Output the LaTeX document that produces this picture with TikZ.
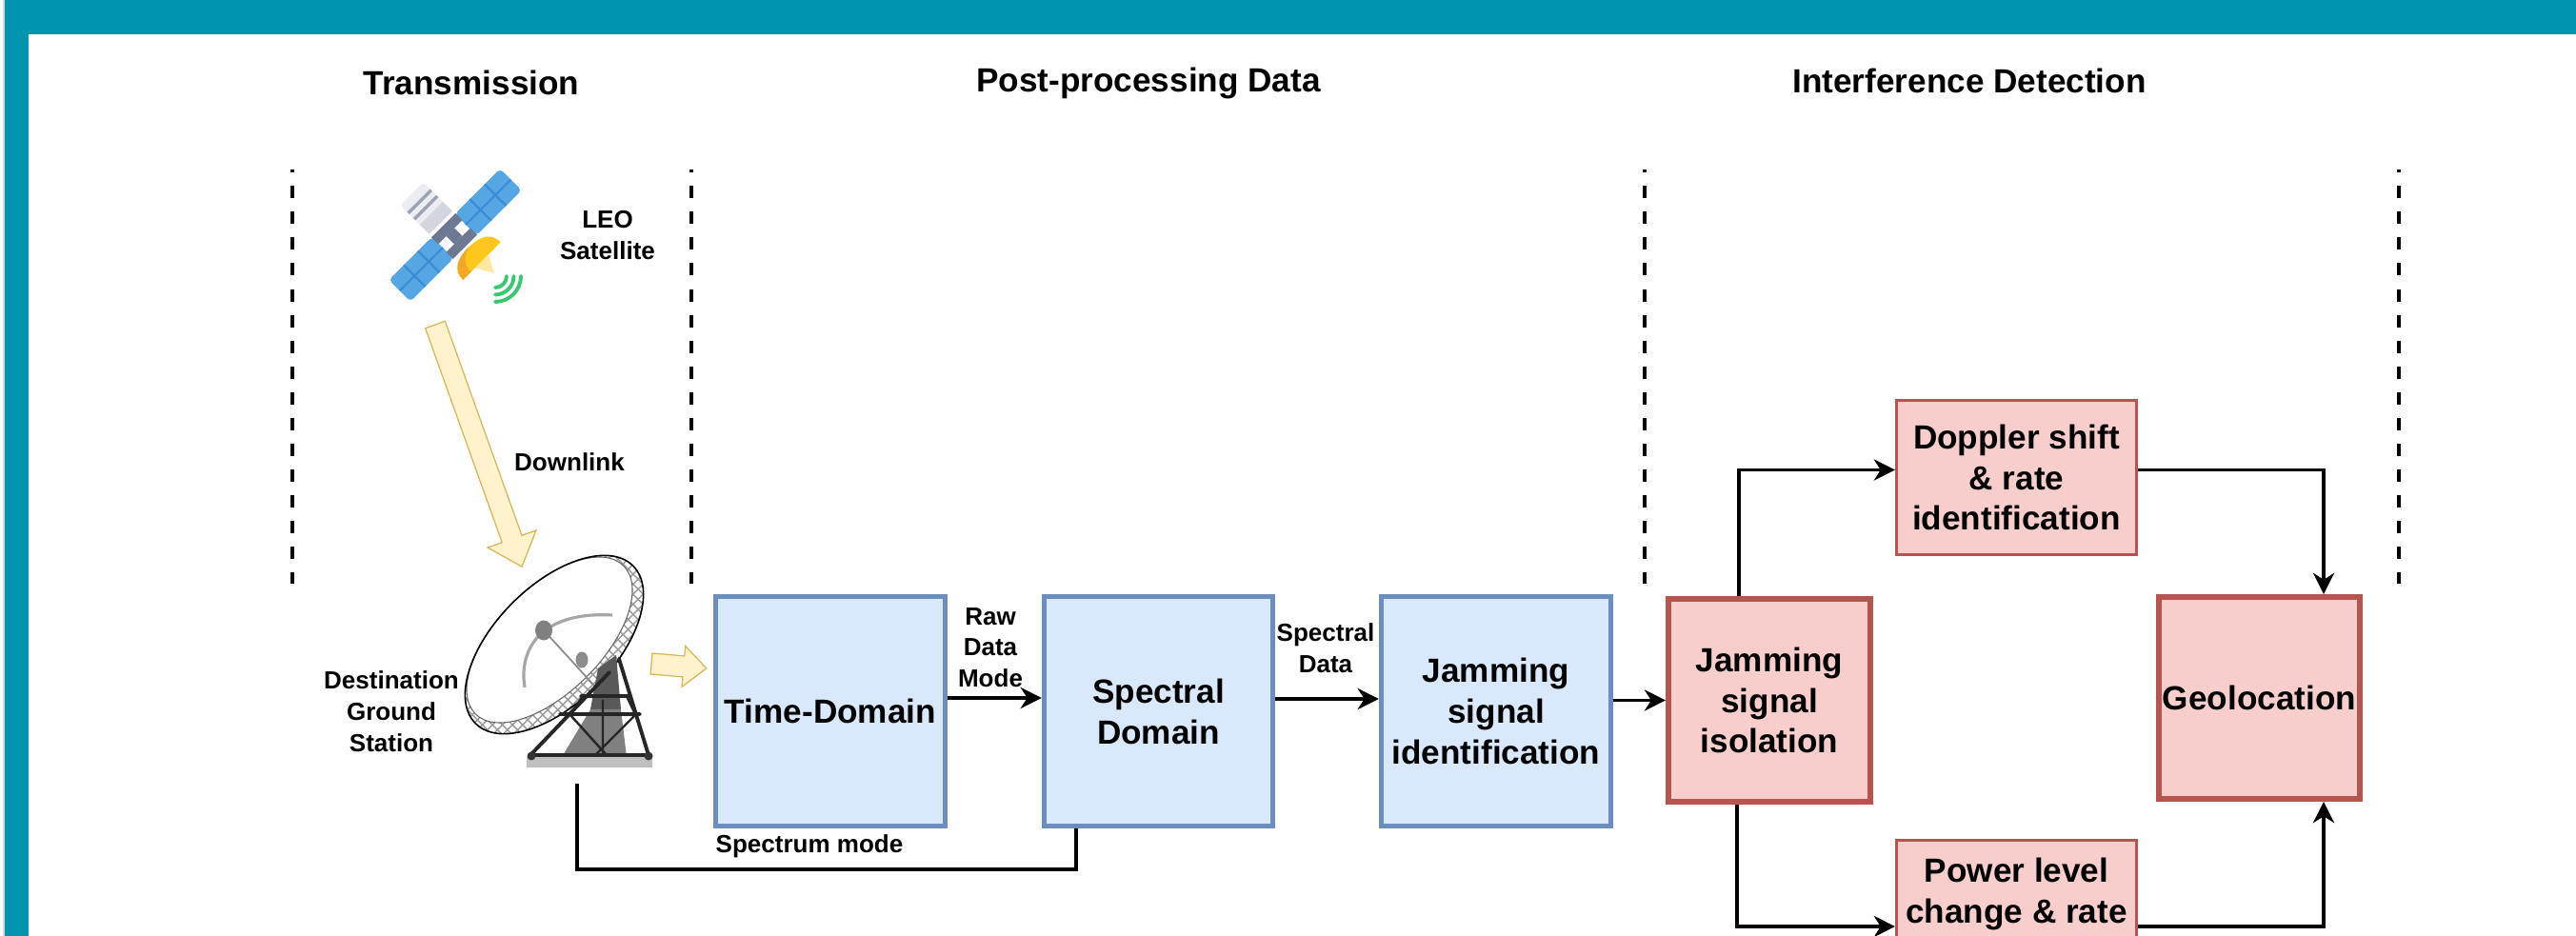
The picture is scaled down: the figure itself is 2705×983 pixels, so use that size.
\documentclass[tikz,border=0pt]{standalone}
\usepackage{fontspec}
\setmainfont{Liberation Sans}
\usetikzlibrary{arrows.meta,patterns}

\definecolor{frameteal}{HTML}{0095AE}
\definecolor{procfill}{HTML}{DAE8FC}
\definecolor{procline}{HTML}{6C8EBF}
\definecolor{detfill}{HTML}{F8CECC}
\definecolor{detline}{HTML}{B85450}
\definecolor{beamfill}{HTML}{FFF2CC}
\definecolor{beamline}{HTML}{D6B656}
\definecolor{panelblue}{HTML}{55A6E2}
\definecolor{panelgrid}{HTML}{3A8BD3}
\definecolor{busgray}{HTML}{6D7893}
\definecolor{radlight}{HTML}{ECEDF2}
\definecolor{raddark}{HTML}{D3D6DF}
\definecolor{radstripe}{HTML}{9CA2B3}
\definecolor{dishyellow}{HTML}{FFC61B}
\definecolor{dishorange}{HTML}{F5A623}
\definecolor{feedcone}{HTML}{FFE7A0}
\definecolor{wavegreen}{HTML}{38C870}

\newcommand{\dgBoxFont}{\fontsize{10}{12.2}\selectfont\bfseries}
\newcommand{\dgTagFont}{\fontsize{7.4}{9.3}\selectfont\bfseries}
\newcommand{\dgPhaseFont}{\fontsize{10}{12}\selectfont\bfseries}

\tikzset{
  bluebox/.style={draw=procline, fill=procfill, line width=1.5pt,
    minimum width=2.41cm, minimum height=2.41cm, inner sep=1pt,
    align=center, font=\dgBoxFont},
  redbox/.style={draw=detline, fill=detfill, inner sep=1pt,
    align=center, font=\dgBoxFont},
  conn/.style={line width=1pt, draw=black},
  flow/.style={conn, -{Stealth[length=6.3pt,width=6.3pt,inset=2pt]}},
  phase/.style={font=\dgPhaseFont, inner sep=0pt},
  tag/.style={font=\dgTagFont, align=center, inner sep=0pt},
  divider/.style={line width=1.15pt, dash pattern=on 3.7pt off 4pt, dash phase=2.8pt},
  beam/.style={fill=beamfill, draw=beamline, line width=0.35pt, line join=miter},
}

\begin{document}
\begin{tikzpicture}[x=0.01cm, y=-0.01cm]
\useasboundingbox (0,0) rectangle (2705,983);
\clip (0,0) rectangle (2705,983);
\fill[white] (0,0) rectangle (2705,983);

% frame
\draw[black!15, line width=0.3pt] (4,0) -- (4,983);
\fill[frameteal] (5,0) rectangle (2705,36);
\fill[frameteal] (5,0) rectangle (30,983);

% phase titles
\node[phase] (ttrans) at (495,87) {Transmission};
\node[phase] (tpost) at (1206,87) {Post-processing Data};
\node[phase] (tdet) at (2068,85) {Interference Detection};

% phase dividers
\foreach \xx in {307,726,1727,2519}
  \draw[divider] (\xx,178) -- (\xx,613);

% ---------- LEO satellite ----------
\begin{scope}[shift={(477,248)}, rotate=45]
  % radiator
  \fill[radlight, rounded corners=1pt] (-17,-63) rectangle (17,-20);
  \fill[raddark] (-17,-34) rectangle (17,-20);
  \fill[radstripe] (-17,-53) rectangle (17,-49.5);
  \fill[radstripe] (-17,-44) rectangle (17,-40.5);
  % solar wings
  \fill[panelblue, rounded corners=1.2pt] (17,-16) rectangle (84,16);
  \fill[panelblue, rounded corners=1.2pt] (-81,-16) rectangle (-17,16);
  \draw[panelgrid, line width=0.6pt] (17,0) -- (84,0) (39,-16) -- (39,16) (61,-16) -- (61,16);
  \draw[panelgrid, line width=0.6pt] (-81,0) -- (-17,0) (-38,-16) -- (-38,16) (-59,-16) -- (-59,16);
  % bus
  \fill[busgray] (-18,-16) rectangle (18,-6);
  \fill[busgray] (-18,6) rectangle (18,16);
  \fill[busgray] (-6,-6) rectangle (6,6);
  % dish and feed
  \fill[dishyellow] (-26,39) .. controls (-26,24) and (-14,19) .. (2,19)
    .. controls (18,19) and (30,24) .. (30,39) -- cycle;
  \fill[dishorange] (-26,39) .. controls (-26,24) and (-14,19) .. (2,19)
    .. controls (-10,23) and (-15,31) .. (-14,39) -- cycle;
  \fill[feedcone] (-8,39) -- (12,39) -- (2,57) -- cycle;
\end{scope}
\foreach \r in {12,19.5,27}
  \draw[wavegreen, line width=1.1pt, line cap=round] (520+\r,290) arc[start angle=0, end angle=90, radius=\r];

\node[tag] (leo) at (638,247) {LEO\\Satellite};

% downlink beam
\begin{scope}[shift={(457,341)}, rotate=-70.3]
  \path[beam] (0,-11) -- (239,-11) -- (239,-27) -- (270,0) -- (239,27) -- (239,11) -- (0,11) -- cycle;
\end{scope}
\node[tag] (dl) at (598,485) {Downlink};

% ---------- ground station antenna ----------
\begin{scope}[shift={(582,677)}, rotate=45]
  \fill[white] (0,0) ellipse [x radius=117, y radius=62];
  \fill[pattern=crosshatch, pattern color=black!40, even odd rule]
    (0,0) ellipse [x radius=117, y radius=62] (0,-7) ellipse [x radius=110, y radius=55];
  \draw[black!60, line width=0.3pt] (0,-7) ellipse [x radius=110, y radius=55];
  \draw[black, line width=0.45pt] (0,0) ellipse [x radius=117, y radius=62];
\end{scope}
% feed support
\draw[black!35, line width=0.9pt] (551,722) .. controls (544,678) and (572,642) .. (643,646);
\draw[black!45, line width=0.5pt] (571,662) -- (624,720);
\fill[black!50] (571,662) ellipse [x radius=0.09cm, y radius=0.105cm];
\fill[black!45] (611,693) ellipse [x radius=0.065cm, y radius=0.085cm];
% mount and truss
\fill[black!65] (628,702) -- (647,688) -- (652,745) -- (620,745) -- cycle;
\fill[black!50] (620,745) -- (652,745) -- (658,795) -- (590,795) -- cycle;
\draw[black!85, line width=1.1pt, line cap=round]
  (640,706) -- (557,793)
  (650,692) -- (681,793)
  (588,750) -- (672,750)
  (610,731) -- (660,731)
  (557,793) -- (682,793);
\draw[black!85, line width=0.7pt]
  (599,751) -- (637,793)
  (667,751) -- (625,793)
  (633,735) -- (633,793)
  (612,731) -- (599,750)
  (658,731) -- (667,750);
\fill[black!25] (553,795) rectangle (685,806);
\fill[black!80] (558,794) circle (0.045cm) (681,794) circle (0.045cm);
\coordinate (gs) at (606,823);
\coordinate (gsb) at (606,913);

\node[tag] (dgs) at (411,747) {Destination\\Ground\\Station};

% hand-off beam into the processing chain
\begin{scope}[shift={(684,697)}, rotate=-4.9]
  \path[beam] (0,-11) -- (34,-11) -- (34,-21.5) -- (58,0) -- (34,21.5) -- (34,11) -- (0,11) -- cycle;
\end{scope}

% ---------- processing blocks ----------
\node[bluebox] (time) at (872,747) {Time-Domain};
\node[bluebox, minimum width=2.40cm] (spec) at (1216.5,747) {Spectral\\Domain};
\node[bluebox] (jid) at (1571,747) {Jamming\\signal\\identification};

% ---------- detection blocks ----------
\node[redbox, line width=1.7pt, minimum width=2.12cm, minimum height=2.13cm] (iso) at (1858,735.5) {Jamming\\signal\\isolation};
\node[redbox, line width=1.7pt, minimum width=2.11cm, minimum height=2.12cm] (geo) at (2372.5,733) {Geolocation};
\node[redbox, line width=0.85pt, minimum width=2.52cm, minimum height=1.62cm] (dop) at (2117.5,501.5) {Doppler shift\\\& rate\\identification};
\node[redbox, line width=0.85pt, minimum width=2.52cm, minimum height=1.62cm] (pow) at (2117.5,963.5) {Power level\\change \& rate\\\strut};

% ---------- connectors ----------
\draw[flow] ([yshift=0.14cm]time.east) -- ([yshift=0.14cm]spec.west);
\draw[flow] ([yshift=0.13cm]spec.east) -- ([yshift=0.13cm]jid.west);
\draw[flow] (jid.east |- iso.west) -- (iso.west);
\draw[flow] ([xshift=-0.32cm]iso.north) |- ([yshift=0.08cm]dop.west);
\draw[flow] ([yshift=0.08cm]dop.east) -| ([xshift=0.675cm]geo.north);
\draw[flow] ([xshift=-0.34cm]iso.south) |- ([yshift=-0.095cm]pow.west);
\draw[flow] ([yshift=-0.095cm]pow.east) -| ([xshift=0.675cm]geo.south);
\draw[conn] (gs) -- (gsb) -| ([xshift=-0.865cm]spec.south);

% connector labels
\node[tag] (rawlbl) at (1040,680) {Raw\\Data\\Mode};
\node[tag] (spdlbl) at (1392,681) {Spectral\\Data};
\node[tag, anchor=west] (smode) at (751,889) {Spectrum mode};

\end{tikzpicture}
\end{document}
